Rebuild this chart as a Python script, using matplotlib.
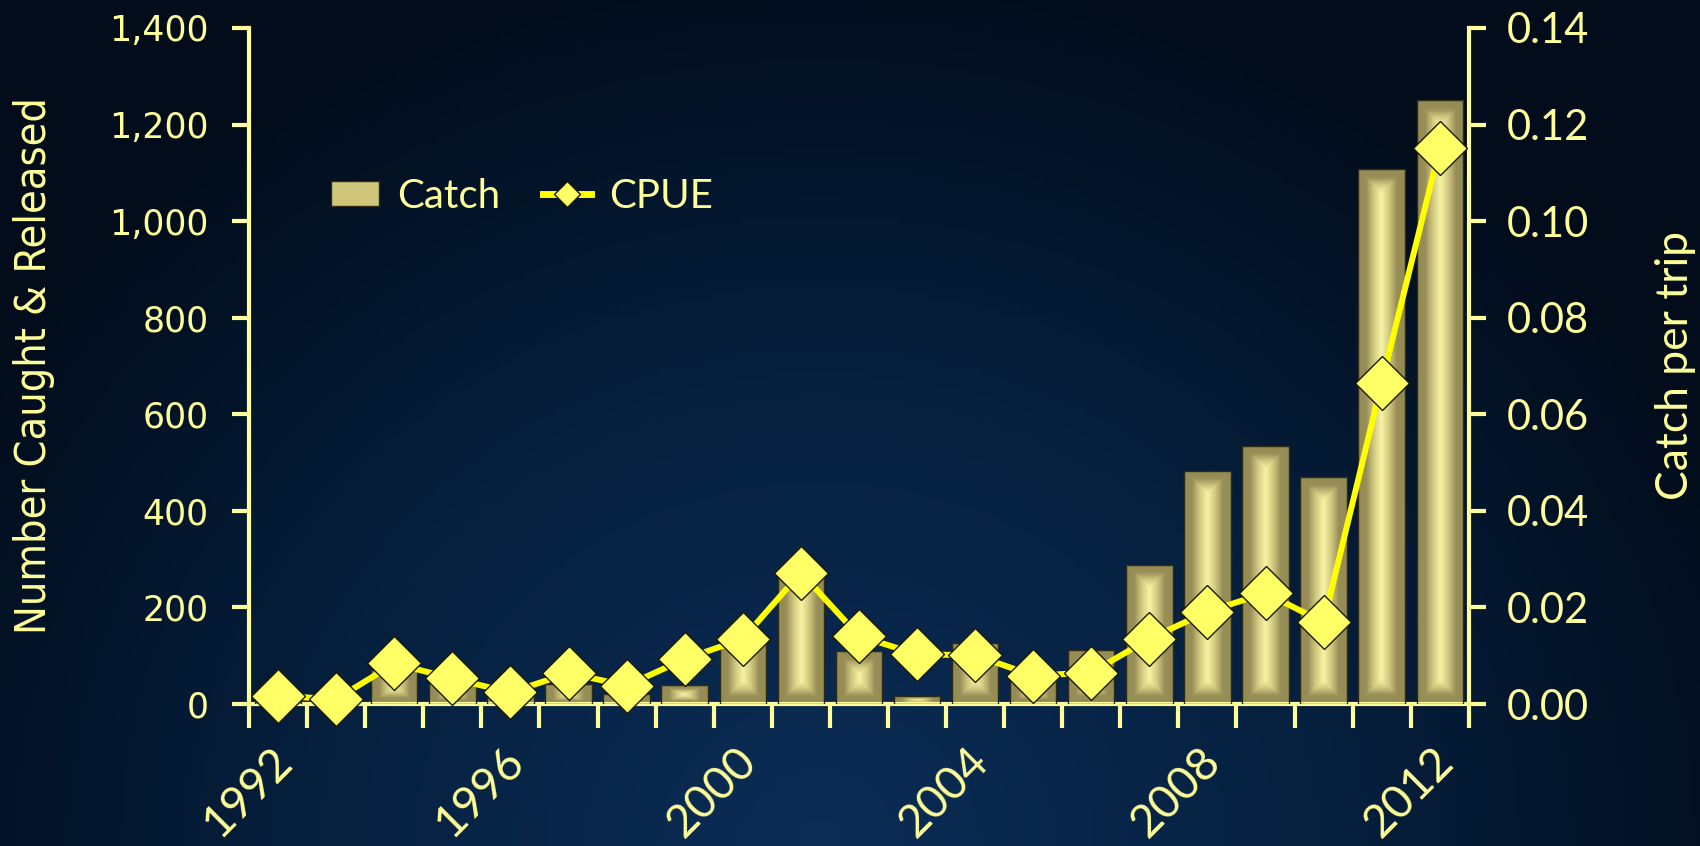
import matplotlib
matplotlib.use('Agg')
import matplotlib.pyplot as plt
import numpy as np
from matplotlib.colors import LinearSegmentedColormap
from matplotlib.patches import Rectangle
from matplotlib.lines import Line2D
from matplotlib.ticker import FuncFormatter, MultipleLocator
from matplotlib.transforms import ScaledTranslation

years = list(range(1992, 2013))
catch = [5, 3, 71, 50, 19, 41, 21, 39, 130, 271, 109, 16, 126, 60, 112,
         288, 483, 535, 470, 1108, 1250]
cpue = [0.0017, 0.0010, 0.0084, 0.0053, 0.0024, 0.0064, 0.0038, 0.0093,
        0.0135, 0.0272, 0.0141, 0.0103, 0.0101, 0.0059, 0.0065, 0.0135,
        0.0191, 0.0230, 0.0169, 0.0665, 0.1151]
label_years = [1992, 1996, 2000, 2004, 2008, 2012]

txt = '#FFFF99'
body = ['Lato', 'DejaVu Sans']

fig = plt.figure(figsize=(17, 8.46), dpi=100)

# background: radial gradient, brighter near bottom centre
bg = fig.add_axes([0, 0, 1, 1], zorder=-10)
gx, gy = np.meshgrid(np.linspace(0, 1700, 340), np.linspace(0, 846, 170))
d = np.sqrt(((gx - 820) / 1000) ** 2 + ((gy - 846) / 900) ** 2)
d = np.clip(d, 0, 1)
bgmap = LinearSegmentedColormap.from_list('bg', ['#0b2d56', '#06203f', '#020c1a'])
bg.imshow(d, cmap=bgmap, extent=[0, 1700, 0, 846], aspect='auto', origin='upper')
bg.axis('off')

ax = fig.add_axes([0.1465, 0.1678, 0.7175, 0.7992])
ax.patch.set_alpha(0)
ax2 = ax.twinx()
ax2.patch.set_alpha(0)

x = np.arange(len(years))
bw = 0.8
barmap = LinearSegmentedColormap.from_list('bar', ['#f7f3a4', '#d2c980', '#988e58', '#948a54'])
gu, gv = np.meshgrid(np.linspace(-1, 1, 60), np.linspace(-1, 1, 200))
for xi, h in zip(x, catch):
    r = Rectangle((xi - bw / 2, 0), bw, h, facecolor='none', edgecolor='#2e2a15',
                  linewidth=1.0, zorder=3)
    ax.add_patch(r)
    hr = max(h, 1)
    # rectangular gradient from the centre, scaled to the bar's shape
    aspect = (hr * 0.4829) / (bw * 58.1)
    dd = np.maximum(np.abs(gu), np.abs(gv))
    if aspect > 1:
        dd = np.maximum(np.abs(gu), np.clip((np.abs(gv) * aspect - (aspect - 1)), 0, None))
    im = ax.imshow(dd, cmap=barmap, vmin=0, vmax=1, extent=[xi - bw / 2, xi + bw / 2, 0, h],
                   aspect='auto', zorder=2, interpolation='bilinear')
    im.set_clip_path(r)

ax.set_xlim(-0.5, len(years) - 0.5)
ax.set_ylim(0, 1400)
ax2.set_ylim(0, 0.14)

ax2.plot(x, cpue, color='#FFFF00', linewidth=4.3, marker='D', markersize=27,
         markerfacecolor='#FFFF66', markeredgecolor='#1a1a00', markeredgewidth=1.0,
         clip_on=False, zorder=5)

for a in (ax, ax2):
    for s in a.spines.values():
        s.set_visible(False)
ax.spines['left'].set_visible(True)
ax.spines['bottom'].set_visible(True)
ax2.spines['right'].set_visible(True)
for s in (ax.spines['left'], ax.spines['bottom'], ax2.spines['right']):
    s.set_color(txt)
    s.set_linewidth(3)

ax.yaxis.set_major_locator(MultipleLocator(200))
ax.yaxis.set_major_formatter(FuncFormatter(lambda v, p: f'{int(v):,}'))
ax.tick_params(axis='y', colors=txt, length=12, width=3, labelsize=25, pad=17)
for t in ax.get_yticklabels():
    t.set_family('DejaVu Sans')

ax2.yaxis.set_major_locator(MultipleLocator(0.02))
ax2.yaxis.set_major_formatter(FuncFormatter(lambda v, p: f'{v:.2f}'))
ax2.tick_params(axis='y', colors=txt, length=12, width=3, labelsize=30, pad=15)
for t in ax2.get_yticklabels():
    t.set_family(body)

ax.set_xticks(np.arange(-0.5, len(years), 1.0))
ax.set_xticklabels([])
ax.tick_params(axis='x', colors=txt, length=17, width=3)
ax.set_xticks([years.index(y) for y in label_years], minor=True)
ax.set_xticklabels([str(y) for y in label_years], minor=True, rotation=45,
                   ha='right', va='top', rotation_mode='anchor', family=body,
                   fontsize=33, color=txt)
ax.tick_params(axis='x', which='minor', length=0, pad=26)
shift = ScaledTranslation(-8 / 100, 0, fig.dpi_scale_trans)
for t in ax.get_xticklabels(minor=True):
    t.set_transform(t.get_transform() + shift)

ax.set_ylabel('Number Caught & Released', color=txt, fontsize=31,
              family='DejaVu Sans', fontstretch='condensed', labelpad=39)
ax2.set_ylabel('Catch per trip', color=txt, fontsize=32, family=body, labelpad=48)

h1 = Rectangle((0, 0), 1, 1, facecolor='#cfc67c', edgecolor='#2e2a15', linewidth=1)
h2 = Line2D([], [], color='#FFFF00', linewidth=5, marker='D', markersize=13,
            markerfacecolor='#FFFF66', markeredgecolor='#1a1a00')
leg = ax2.legend([h1, h2], ['Catch', 'CPUE'], loc='center left',
                 bbox_to_anchor=(0.067, 0.751), ncol=2, frameon=False,
                 prop={'family': body, 'size': 29}, handlelength=1.2,
                 handleheight=0.6, columnspacing=1.05, handletextpad=0.45,
                 borderpad=0, borderaxespad=0)
for t in leg.get_texts():
    t.set_color(txt)

fig.savefig('out.png', dpi=100)
